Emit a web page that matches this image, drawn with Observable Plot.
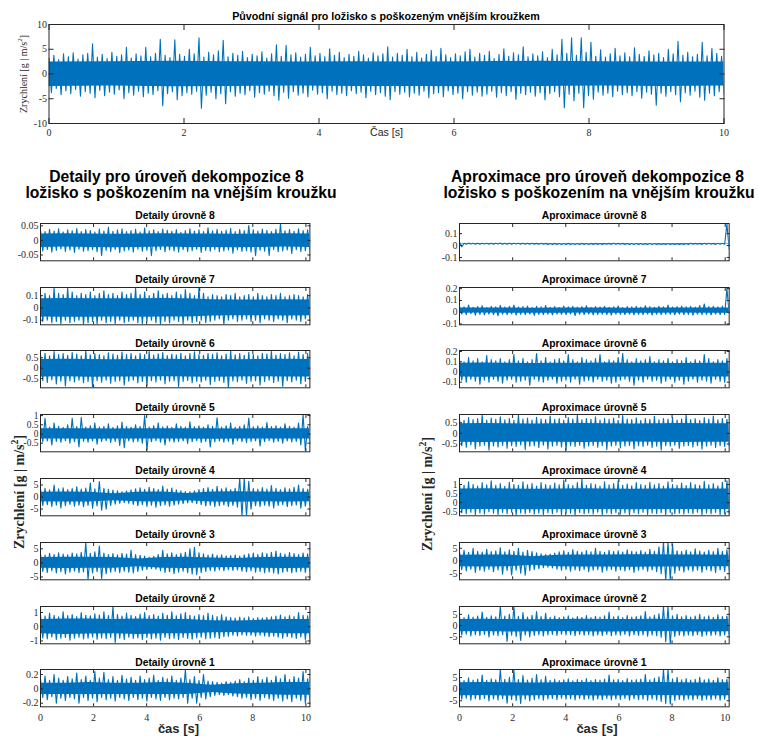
<!DOCTYPE html>
<html><head><meta charset="utf-8">
<script src="https://cdn.jsdelivr.net/npm/d3@7"></script>
<script src="https://cdn.jsdelivr.net/npm/@observablehq/plot@0.6"></script>
<style>
body{margin:0;background:#fff;}
#c{position:relative;width:758px;height:736px;overflow:hidden;background:#fff;}
#c svg{position:absolute;}
</style></head><body><div id="c"></div>
<script>
// ---------- texts ----------
const topTitle = "Původní signál pro ložisko s poškozeným vnějším kroužkem";
const topXLabel = "Čas [s]";
const yLabelMain = "Zrychlení [g | m/s";
const leftTitle = ["Detaily pro úroveň dekompozice 8", "ložisko s poškozením na vnějším kroužku"];
const rightTitle = ["Aproximace pro úroveň dekompozice 8", "ložisko s poškozením na vnějším kroužku"];
const detTitles = ["Detaily úrovně 8","Detaily úrovně 7","Detaily úrovně 6","Detaily úrovně 5","Detaily úrovně 4","Detaily úrovně 3","Detaily úrovně 2","Detaily úrovně 1"];
const aprTitles = ["Aproximace úrovně 8","Aproximace úrovně 7","Aproximace úrovně 6","Aproximace úrovně 5","Aproximace úrovně 4","Aproximace úrovně 3","Aproximace úrovně 2","Aproximace úrovně 1"];
const bottomXLabel = "čas [s]";

// ---------- ticks / domains ----------
const topXTicks = [0,2,4,6,8,10];
const topYTicks = [-10,-5,0,5,10];
const topXDomain = [0,10];
const topYDomain = [-10,10];
const subXTicks = [0,2,4,6,8,10];
const subXDomain = [0,10.15];
const detYTicks = [[-0.05,0,0.05],[-0.1,0,0.1],[-0.5,0,0.5],[-0.5,0,0.5,1],[-5,0,5],[-5,0,5],[-1,0,1],[-0.2,0,0.2]];
const detYDomains = [[-0.07,0.058],[-0.138,0.167],[-0.94,0.85],[-0.97,1.06],[-7.8,7.7],[-6,7.25],[-1.2,1.42],[-0.25,0.27]];
const aprYTicks = [[-0.1,0,0.1],[-0.1,0,0.1,0.2],[-0.1,0,0.1,0.2],[-0.5,0,0.5],[-0.5,0,0.5,1],[-5,0,5],[-5,0,5],[-5,0,5]];
const aprYDomains = [[-0.128,0.185],[-0.107,0.21],[-0.155,0.21],[-0.87,0.89],[-0.72,1.33],[-7.4,7.3],[-8.1,8.5],[-7.6,8.5]];

// ---------- signal peaks (upper / lower swing of each oscillation) ----------
const topHi = [3.2,3.8,2.9,4.1,3.5,4.3,3.0,3.9,4.2,6.1, 3.4,4.0,3.1,4.4,3.6,3.9,5.4,3.2,4.1,3.7, 5.4,3.5,4.2,7.0,3.8,3.3,6.9,4.0,3.6,5.0, 4.1,7.3,3.4,4.4,3.9,4.7,6.8,3.5,4.2,3.8, 4.6,3.3,4.0,3.7,4.5,3.2,4.1,5.9,3.6,5.8, 3.9,4.3,3.4,4.0,5.4,3.7,4.2,3.5,5.1,3.8, 4.4,3.3,4.0,3.6,4.6,3.9,3.2,4.3,3.7,4.1, 5.5,3.4,4.2,3.8,5.0,3.5,4.4,3.2,4.0,4.8, 3.6,5.2,3.9,3.3,4.1,3.7,4.5,5.0,3.4,4.2, 3.8,4.6,3.1,4.0,5.1,3.6,4.3,3.9,5.5,3.5, 4.1,3.7,4.5,3.3,5.0,3.9,7.0,4.2,7.3,3.8, 7.3,4.4,6.4,3.6,4.9,3.4,4.1,5.2,3.7,4.3, 3.5,5.3,4.0,3.6,4.7,3.9,4.2,3.3,5.0,4.1, 6.6,3.8,4.4,3.5,4.0,6.4,3.7,5.2,4.2,3.6];
const topLo = [-3.8,-2.9,-4.2,-3.4,-4.0,-3.1,-4.5,-3.6,-3.9,-4.8, -3.3,-4.4,-3.7,-4.1,-3.2,-5.0,-3.8,-4.3,-3.5,-4.6, -3.9,-4.2,-3.4,-6.4,-4.0,-3.6,-5.2,-4.4,-3.8,-4.1, -3.5,-6.9,-4.3,-3.7,-5.0,-4.0,-6.0,-3.6,-4.5,-3.9, -4.2,-3.4,-4.7,-3.8,-4.1,-3.5,-4.4,-5.3,-3.7,-4.9, -3.6,-4.3,-3.9,-4.6,-3.3,-4.1,-3.8,-5.0,-3.5,-4.2, -3.9,-4.4,-3.4,-4.0,-3.7,-4.8,-3.5,-4.2,-3.8,-4.5, -5.2,-3.6,-4.1,-3.7,-4.6,-3.9,-4.3,-3.5,-4.8,-4.0, -3.8,-4.6,-3.4,-4.2,-3.9,-5.0,-3.6,-4.3,-3.7,-4.5, -4.1,-3.5,-4.7,-3.8,-4.4,-3.6,-5.1,-3.9,-4.2,-3.7, -4.5,-3.8,-5.2,-4.0,-3.6,-4.6,-6.8,-4.1,-5.4,-3.9, -6.8,-4.4,-5.1,-3.7,-4.3,-3.9,-4.6,-3.5,-4.2,-3.8, -4.4,-3.6,-4.9,-3.7,-4.1,-6.3,-3.9,-4.5,-3.6,-4.2, -5.6,-3.8,-4.3,-3.5,-4.7,-5.3,-3.9,-4.4,-3.6,-4.1];
const topCoreHi = [2.4,2.5,2.6,2.5,2.4,2.5,2.4,2.5,2.6,2.5,2.4,2.4];
const topCoreLo = [-2.5,-2.4,-2.6,-2.5,-2.4,-2.5,-2.5,-2.6,-2.5,-2.4,-2.5,-2.4];

const d8Hi = [0.035,0.03,0.038,0.032,0.04,0.029,0.036,0.033,0.041,0.03, 0.037,0.034,0.029,0.039,0.032,0.045,0.031,0.036,0.04,0.03, 0.034,0.038,0.029,0.042,0.033,0.036,0.03,0.039,0.035,0.031, 0.037,0.028,0.034,0.04,0.032,0.036,0.03,0.043,0.033,0.038, 0.031,0.035,0.041,0.03,0.037,0.034,0.051,0.036,0.032,0.039, 0.035,0.03,0.038,0.056,0.033,0.037,0.031,0.04,0.034,0.036];
const d8Lo = [-0.036,-0.031,-0.04,-0.034,-0.029,-0.038,-0.033,-0.041,-0.03,-0.037, -0.035,-0.032,-0.039,-0.052,-0.034,-0.038,-0.031,-0.042,-0.036,-0.033, -0.04,-0.03,-0.037,-0.034,-0.052,-0.035,-0.031,-0.039,-0.033,-0.036, -0.04,-0.032,-0.038,-0.035,-0.03,-0.041,-0.034,-0.037,-0.031,-0.039, -0.036,-0.033,-0.044,-0.032,-0.038,-0.035,-0.04,-0.052,-0.034,-0.037, -0.052,-0.031,-0.039,-0.036,-0.033,-0.045,-0.032,-0.038,-0.035,-0.037];
const d8CoreHi = [0.022,0.023,0.022,0.021,0.022,0.023,0.022,0.022,0.021,0.022,0.023,0.022];
const d8CoreLo = [-0.024,-0.023,-0.024,-0.025,-0.024,-0.023,-0.024,-0.024,-0.025,-0.024,-0.023,-0.024];

const d7Hi = [0.11,0.12,0.1,0.16,0.12,0.11,0.16,0.13,0.1,0.12, 0.11,0.13,0.1,0.12,0.14,0.11,0.12,0.1,0.13,0.11, 0.12,0.16,0.11,0.13,0.1,0.12,0.14,0.11,0.12,0.1, 0.13,0.11,0.15,0.12,0.1,0.16,0.12,0.09,0.11,0.1, 0.09,0.11,0.1,0.12,0.09,0.1,0.11,0.09,0.12,0.1, 0.09,0.11,0.1,0.12,0.09,0.1,0.11,0.1,0.09,0.11];
const d7Lo = [-0.11,-0.1,-0.12,-0.11,-0.13,-0.1,-0.12,-0.11,-0.1,-0.135, -0.12,-0.11,-0.13,-0.1,-0.12,-0.11,-0.13,-0.1,-0.12,-0.11, -0.1,-0.12,-0.13,-0.11,-0.1,-0.12,-0.135,-0.11,-0.12,-0.1, -0.11,-0.13,-0.1,-0.12,-0.11,-0.1,-0.12,-0.11,-0.1,-0.09, -0.135,-0.1,-0.09,-0.11,-0.1,-0.09,-0.11,-0.1,-0.12,-0.09, -0.1,-0.11,-0.09,-0.1,-0.12,-0.09,-0.1,-0.11,-0.09,-0.1];
const d7CoreHi = [0.075,0.078,0.075,0.076,0.074,0.077,0.075,0.066,0.065,0.064,0.066,0.065];
const d7CoreLo = [-0.075,-0.077,-0.076,-0.075,-0.077,-0.075,-0.074,-0.066,-0.064,-0.065,-0.066,-0.064];

const d6Hi = [0.65,0.72,0.6,0.8,0.66,0.7,0.62,0.75,0.68,0.6, 0.82,0.64,0.7,0.66,0.6,0.74,0.68,0.62,0.78,0.65, 0.7,0.6,0.72,0.66,0.8,0.63,0.69,0.75,0.61,0.68, 0.64,0.72,0.6,0.7,0.79,0.65,0.62,0.7,0.67,0.74, 0.6,0.68,0.82,0.64,0.7,0.62,0.76,0.66,0.6,0.72, 0.68,0.8,0.63,0.7,0.65,0.74,0.6,0.78,0.66,0.7];
const d6Lo = [-0.6,-0.68,-0.56,-0.75,-0.62,-0.85,-0.6,-0.66,-0.58,-0.7, -0.63,-0.9,-0.6,-0.67,-0.57,-0.72,-0.64,-0.6,-0.8,-0.62, -0.58,-0.69,-0.63,-0.85,-0.6,-0.66,-0.57,-0.74,-0.62,-0.6, -0.88,-0.64,-0.59,-0.7,-0.62,-0.66,-0.58,-0.78,-0.63,-0.6, -0.68,-0.92,-0.61,-0.65,-0.58,-0.72,-0.62,-0.6,-0.8,-0.64, -0.58,-0.68,-0.62,-0.86,-0.6,-0.66,-0.58,-0.74,-0.63,-0.6];
const d6CoreHi = [0.42,0.43,0.42,0.41,0.42,0.43,0.42,0.42,0.41,0.42,0.43,0.42];
const d6CoreLo = [-0.42,-0.41,-0.43,-0.42,-0.42,-0.41,-0.42,-0.43,-0.42,-0.41,-0.42,-0.42];

const d5Hi = [0.4,0.85,0.38,0.6,0.42,0.36,0.5,0.85,0.4,0.9, 0.37,0.45,0.6,0.38,0.42,0.55,0.36,0.44,0.65,0.4, 0.38,0.5,0.42,1.0,0.37,0.45,0.6,0.39,0.43,0.36, 0.55,0.41,0.38,0.66,0.4,0.44,0.37,0.5,0.42,0.88, 0.38,0.45,0.6,0.36,0.42,0.5,0.86,0.39,0.44,0.37, 0.62,0.4,0.45,0.38,0.55,0.42,0.37,0.6,1.03,0.4];
const d5Lo = [-0.42,-0.38,-0.6,-0.4,-0.45,-0.37,-0.5,-0.42,-0.7,-0.39, -0.44,-0.38,-0.55,-0.41,-0.37,-0.46,-0.4,-0.62,-0.75,-0.38, -0.43,-0.4,-0.5,-0.88,-0.42,-0.37,-0.45,-0.6,-0.39,-0.44, -0.4,-0.38,-0.52,-0.42,-0.37,-0.46,-0.4,-0.7,-0.43,-0.38, -0.45,-0.4,-0.55,-0.37,-0.42,-0.48,-0.4,-0.38,-0.65,-0.42, -0.37,-0.45,-0.4,-0.5,-0.38,-0.43,-0.4,-0.6,-0.9,-0.41];
const d5CoreHi = [0.28,0.29,0.28,0.27,0.28,0.29,0.28,0.28,0.27,0.28,0.29,0.28];
const d5CoreLo = [-0.28,-0.27,-0.29,-0.28,-0.28,-0.27,-0.28,-0.29,-0.28,-0.27,-0.28,-0.28];

const d4Hi = [3.2,3.6,3.0,5.0,3.4,3.8,3.1,3.5,4.2,3.3, 3.7,5.8,3.4,6.4,3.6,3.2,2.9,2.6,2.2,2.5, 3.0,3.4,3.8,3.2,4.0,3.5,3.1,4.6,3.3,3.7, 3.0,2.6,2.3,2.2,2.6,3.1,3.5,3.9,3.2,4.4, 3.4,3.8,3.1,3.6,7.7,7.7,6.5,3.5,3.2,3.9, 3.3,4.8,3.6,3.1,3.8,3.4,4.0,5.0,3.5,3.2];
const d4Lo = [-3.5,-3.2,-3.9,-3.4,-4.5,-3.6,-3.1,-3.8,-3.4,-4.0, -3.5,-4.6,-3.7,-5.5,-5.0,-3.5,-3.0,-2.6,-2.3,-2.6, -3.1,-3.6,-3.2,-3.9,-3.4,-4.2,-3.6,-3.3,-3.8,-3.4, -3.0,-2.7,-2.4,-2.3,-2.8,-3.2,-3.7,-3.4,-4.0,-3.6, -3.3,-3.9,-3.5,-4.2,-7.8,-7.8,-5.0,-3.6,-3.9,-3.4, -3.8,-4.5,-3.5,-3.2,-4.0,-3.6,-3.3,-4.6,-3.8,-3.5];
const d4CoreHi = [2.0,2.1,2.0,1.4,2.0,2.1,1.5,2.1,2.2,2.1,2.0,2.0];
const d4CoreLo = [-2.0,-2.1,-2.1,-1.5,-2.0,-2.1,-1.5,-2.1,-2.2,-2.0,-2.1,-2.0];

const d3Hi = [3.2,2.8,3.4,3.0,3.6,3.1,2.9,3.5,3.2,3.8, 7.2,3.4,3.9,6.0,3.5,3.0,3.3,2.9,3.4,3.1, 4.5,3.0,2.7,2.4,2.1,2.3,3.0,4.5,3.2,3.6, 3.0,3.4,3.8,5.0,5.5,3.6,3.2,2.8,3.1,2.7, 2.9,2.5,2.6,2.8,2.4,2.9,3.2,3.5,3.0,3.6, 3.3,3.8,4.2,3.4,3.1,3.7,3.3,3.0,3.5,3.2];
const d3Lo = [-3.0,-3.4,-2.8,-3.6,-3.1,-3.9,-3.3,-2.9,-3.5,-3.2, -6.0,-3.6,-3.1,-5.5,-3.8,-3.3,-3.0,-3.5,-2.9,-3.3, -3.6,-3.0,-2.6,-2.3,-2.0,-2.2,-2.8,-3.4,-3.1,-3.8, -3.3,-2.9,-3.5,-3.9,-4.2,-3.4,-3.0,-2.7,-2.9,-2.5, -2.8,-2.4,-2.7,-2.5,-2.9,-3.1,-2.8,-3.3,-3.0,-3.5, -3.2,-3.6,-3.9,-3.3,-3.0,-3.5,-3.2,-2.9,-3.4,-3.1];
const d3CoreHi = [1.9,2.0,2.0,1.9,1.4,1.9,2.0,1.7,1.6,1.9,2.0,1.9];
const d3CoreLo = [-1.9,-2.0,-1.9,-1.9,-1.4,-1.9,-2.0,-1.7,-1.6,-1.9,-2.0,-1.9];

const d2Hi = [0.8,0.75,0.95,0.8,0.7,1.05,0.78,0.85,0.72,1.0, 0.8,0.76,0.9,0.82,1.05,0.78,1.4,0.85,0.75,0.95, 0.8,0.72,0.88,1.0,0.78,0.85,0.74,0.95,0.8,1.05, 0.76,0.9,1.0,0.8,0.74,0.86,0.78,0.95,0.8,0.72, 0.85,0.7,0.65,0.6,0.68,0.62,0.7,0.58,0.64,0.6, 0.66,0.7,0.75,0.82,0.7,0.78,0.72,1.0,0.8,0.76];
const d2Lo = [-0.78,-0.85,-0.72,-0.9,-0.8,-0.75,-0.95,-0.8,-0.74,-0.86, -0.8,-0.72,-0.88,-0.78,-0.84,-0.76,-1.1,-0.8,-0.9,-0.74, -0.82,-0.78,-0.9,-0.75,-0.85,-0.8,-0.95,-0.76,-0.84,-0.8, -0.9,-0.76,-0.82,-0.88,-0.78,-0.74,-0.85,-0.8,-0.76,-0.82, -0.7,-0.66,-0.6,-0.64,-0.58,-0.62,-0.6,-0.66,-0.6,-0.64, -0.7,-0.66,-0.74,-0.8,-0.7,-0.76,-0.82,-0.72,-0.9,-0.78];
const d2CoreHi = [0.5,0.55,0.55,0.5,0.55,0.5,0.5,0.42,0.4,0.45,0.5,0.5];
const d2CoreLo = [-0.5,-0.55,-0.52,-0.5,-0.55,-0.5,-0.5,-0.42,-0.4,-0.45,-0.5,-0.5];

const d1Hi = [0.13,0.18,0.12,0.2,0.15,0.12,0.17,0.14,0.22,0.13, 0.18,0.12,0.24,0.15,0.23,0.13,0.17,0.12,0.19,0.14, 0.16,0.12,0.18,0.13,0.15,0.19,0.12,0.16,0.14,0.18, 0.12,0.15,0.27,0.13,0.17,0.12,0.2,0.11,0.1,0.09, 0.08,0.1,0.09,0.11,0.13,0.1,0.15,0.12,0.17,0.13, 0.16,0.12,0.18,0.14,0.2,0.13,0.17,0.15,0.24,0.14];
const d1Lo = [-0.12,-0.15,-0.11,-0.2,-0.13,-0.16,-0.12,-0.14,-0.2,-0.12, -0.16,-0.13,-0.18,-0.12,-0.15,-0.13,-0.17,-0.12,-0.14,-0.16, -0.12,-0.15,-0.13,-0.17,-0.12,-0.14,-0.16,-0.12,-0.15,-0.13, -0.14,-0.12,-0.2,-0.13,-0.2,-0.12,-0.14,-0.11,-0.09,-0.08, -0.09,-0.08,-0.1,-0.11,-0.13,-0.12,-0.15,-0.13,-0.16,-0.12, -0.14,-0.16,-0.13,-0.17,-0.14,-0.18,-0.13,-0.16,-0.2,-0.15];
const d1CoreHi = [0.08,0.08,0.09,0.08,0.08,0.09,0.08,0.05,0.07,0.08,0.09,0.09];
const d1CoreLo = [-0.08,-0.08,-0.08,-0.08,-0.08,-0.08,-0.08,-0.05,-0.07,-0.08,-0.09,-0.09];

const a8Hi = [0.029,0.019,0.02,0.019,0.02,0.019,0.019,0.02,0.019,0.02, 0.019,0.02,0.019,0.019,0.02,0.019,0.019,0.018,0.019,0.018, 0.017,0.018,0.017,0.017,0.018,0.017,0.017,0.018,0.017,0.018, 0.018,0.017,0.018,0.018,0.019,0.018,0.018,0.017,0.017,0.017, 0.017,0.016,0.017,0.017,0.016,0.016,0.017,0.016,0.016,0.016, 0.017,0.019,0.018,0.018,0.019,0.019,0.018,0.019,0.019,0.18];
const a8Lo = [-0.011,0.012,0.013,0.012,0.012,0.013,0.012,0.012,0.013,0.012, 0.012,0.012,0.013,0.012,0.012,0.012,0.012,0.011,0.011,0.01, 0.01,0.01,0.009,0.01,0.01,0.009,0.01,0.01,0.009,0.01, 0.01,0.01,0.011,0.01,0.011,0.011,0.01,0.01,0.009,0.01, 0.009,0.009,0.009,0.01,0.009,0.009,0.009,0.009,0.008,0.009, 0.009,0.011,0.011,0.01,0.011,0.011,0.01,0.011,0.011,-0.03];
const a8CoreHi = [0.018,0.018,0.018,0.017,0.016,0.016,0.017,0.016,0.016,0.015,0.017,0.018];
const a8CoreLo = [0.013,0.013,0.012,0.011,0.01,0.01,0.011,0.01,0.01,0.009,0.011,0.012];

const a7Hi = [0.05,0.045,0.06,0.042,0.048,0.055,0.04,0.05,0.046,0.058, 0.043,0.05,0.06,0.044,0.048,0.052,0.041,0.05,0.045,0.056, 0.042,0.048,0.04,0.052,0.045,0.05,0.043,0.047,0.055,0.041, 0.048,0.044,0.05,0.042,0.046,0.053,0.04,0.048,0.045,0.05, 0.043,0.055,0.047,0.042,0.05,0.045,0.06,0.044,0.048,0.052, 0.045,0.05,0.043,0.056,0.07,0.048,0.05,0.045,0.052,0.2];
const a7Lo = [-0.015,-0.02,-0.012,-0.025,-0.018,-0.022,-0.015,-0.02,-0.03,-0.016, -0.02,-0.014,-0.024,-0.018,-0.02,-0.015,-0.026,-0.018,-0.02,-0.016, -0.022,-0.015,-0.018,-0.02,-0.014,-0.028,-0.017,-0.02,-0.015,-0.022, -0.018,-0.016,-0.02,-0.024,-0.015,-0.018,-0.02,-0.016,-0.022,-0.018, -0.02,-0.015,-0.024,-0.017,-0.02,-0.016,-0.018,-0.022,-0.015,-0.02, -0.018,-0.025,-0.016,-0.02,-0.018,-0.022,-0.016,-0.02,-0.018,-0.01];
const a7CoreHi = [0.035,0.036,0.035,0.034,0.035,0.036,0.035,0.034,0.035,0.036,0.035,0.035];
const a7CoreLo = [-0.008,-0.007,-0.008,-0.009,-0.008,-0.007,-0.008,-0.009,-0.008,-0.007,-0.008,-0.008];

const a6Hi = [0.12,0.1,0.14,0.11,0.13,0.1,0.16,0.12,0.11,0.13, 0.1,0.12,0.17,0.11,0.13,0.1,0.12,0.18,0.11,0.14, 0.1,0.12,0.13,0.11,0.17,0.12,0.1,0.14,0.12,0.11, 0.13,0.17,0.1,0.12,0.11,0.14,0.18,0.12,0.1,0.13, 0.11,0.12,0.15,0.1,0.12,0.11,0.13,0.1,0.12,0.11, 0.14,0.1,0.12,0.11,0.17,0.13,0.1,0.12,0.11,0.13];
const a6Lo = [-0.08,-0.1,-0.07,-0.09,-0.12,-0.08,-0.1,-0.07,-0.09,-0.11, -0.08,-0.07,-0.1,-0.09,-0.08,-0.13,-0.07,-0.09,-0.1,-0.08, -0.07,-0.11,-0.09,-0.08,-0.1,-0.07,-0.12,-0.09,-0.08,-0.1, -0.07,-0.09,-0.08,-0.11,-0.1,-0.08,-0.07,-0.09,-0.13,-0.08, -0.1,-0.07,-0.09,-0.08,-0.11,-0.09,-0.07,-0.1,-0.08,-0.12, -0.09,-0.07,-0.1,-0.08,-0.09,-0.11,-0.07,-0.09,-0.1,-0.08];
const a6CoreHi = [0.085,0.088,0.085,0.083,0.086,0.085,0.087,0.084,0.085,0.083,0.086,0.085];
const a6CoreLo = [-0.05,-0.052,-0.05,-0.049,-0.051,-0.05,-0.052,-0.05,-0.049,-0.051,-0.05,-0.05];

const a5Hi = [0.68,0.62,0.75,0.65,0.7,0.85,0.63,0.72,0.66,0.78, 0.64,0.7,0.62,0.86,0.67,0.72,0.63,0.76,0.68,0.65, 0.82,0.66,0.7,0.62,0.74,0.67,0.85,0.64,0.7,0.66, 0.78,0.63,0.7,0.66,0.72,0.62,0.84,0.68,0.65,0.73, 0.62,0.7,0.66,0.8,0.64,0.7,0.67,0.75,0.63,0.68, 0.86,0.65,0.7,0.62,0.74,0.67,0.82,0.64,0.7,0.66];
const a5Lo = [-0.58,-0.65,-0.55,-0.72,-0.6,-0.56,-0.78,-0.6,-0.64,-0.57, -0.7,-0.58,-0.62,-0.55,-0.76,-0.6,-0.58,-0.66,-0.56,-0.74, -0.6,-0.57,-0.64,-0.78,-0.58,-0.62,-0.56,-0.7,-0.6,-0.57, -0.65,-0.58,-0.76,-0.6,-0.56,-0.68,-0.6,-0.57,-0.72,-0.58, -0.62,-0.56,-0.66,-0.6,-0.78,-0.58,-0.6,-0.56,-0.7,-0.6, -0.57,-0.64,-0.58,-0.74,-0.6,-0.56,-0.66,-0.58,-0.62,-0.6];
const a5CoreHi = [0.45,0.46,0.45,0.44,0.45,0.46,0.45,0.44,0.45,0.46,0.45,0.45];
const a5CoreLo = [-0.42,-0.43,-0.42,-0.41,-0.42,-0.43,-0.42,-0.41,-0.42,-0.43,-0.42,-0.42];

const a4Hi = [1.05,0.95,1.15,1.0,0.92,1.1,0.98,1.2,0.95,1.05, 0.9,1.12,1.0,0.95,1.15,0.98,1.05,0.92,1.1,1.0, 0.95,1.08,0.98,1.25,1.0,0.94,1.1,1.3,0.96,1.05, 1.0,0.92,1.15,0.98,1.05,1.2,0.95,1.02,0.93,1.1, 1.0,0.95,1.12,0.98,1.05,0.92,1.15,1.0,0.96,1.08, 0.94,1.1,1.0,0.95,1.18,0.98,1.05,0.93,1.12,1.2];
const a4Lo = [-0.55,-0.6,-0.52,-0.66,-0.56,-0.62,-0.5,-0.58,-0.64,-0.54, -0.6,-0.52,-0.68,-0.56,-0.6,-0.53,-0.62,-0.57,-0.66,-0.55, -0.6,-0.52,-0.64,-0.56,-0.58,-0.7,-0.54,-0.6,-0.56,-0.62, -0.52,-0.66,-0.57,-0.6,-0.54,-0.62,-0.56,-0.68,-0.55,-0.6, -0.52,-0.64,-0.57,-0.6,-0.55,-0.66,-0.53,-0.6,-0.58,-0.62, -0.55,-0.6,-0.52,-0.66,-0.57,-0.6,-0.54,-0.64,-0.58,-0.6];
const a4CoreHi = [0.75,0.76,0.75,0.74,0.75,0.76,0.75,0.74,0.75,0.76,0.75,0.75];
const a4CoreLo = [-0.38,-0.37,-0.38,-0.39,-0.38,-0.37,-0.38,-0.39,-0.38,-0.37,-0.38,-0.38];

const a3Hi = [3.6,4.2,3.4,5.0,3.8,3.5,4.6,3.7,4.0,5.2, 3.6,4.4,3.8,5.0,3.5,4.2,3.7,3.2,2.8,2.5, 2.7,3.1,3.6,4.0,3.4,4.5,3.8,3.5,4.1,3.6, 5.0,3.8,3.4,4.2,3.7,4.0,3.5,4.4,3.8,3.6, 4.1,3.5,4.6,3.8,5.5,7.3,7.3,6.5,4.0,3.7, 4.3,3.6,4.8,3.9,3.5,4.2,3.7,5.0,3.8,4.4];
const a3Lo = [-3.4,-3.9,-3.2,-4.5,-3.6,-4.0,-3.3,-4.2,-3.5,-5.2, -3.7,-5.5,-3.6,-4.8,-5.6,-3.8,-3.4,-3.0,-2.6,-2.4, -2.7,-3.2,-3.6,-3.3,-4.0,-3.5,-3.8,-3.3,-4.2,-3.6, -3.4,-4.4,-3.7,-3.3,-4.0,-3.5,-3.9,-3.4,-4.5,-3.6, -3.3,-4.0,-3.5,-4.2,-5.0,-7.4,-7.4,-4.8,-3.7,-4.3, -3.5,-4.0,-3.6,-4.4,-3.4,-3.9,-4.5,-3.5,-4.1,-3.6];
const a3CoreHi = [2.3,2.4,2.4,1.7,2.3,2.4,2.4,2.5,2.5,2.4,2.4,2.3];
const a3CoreLo = [-2.3,-2.4,-2.3,-1.7,-2.3,-2.4,-2.4,-2.5,-2.4,-2.4,-2.3,-2.3];

const a2Hi = [4.0,3.6,4.8,3.8,4.2,6.0,3.7,4.4,3.9,8.5, 4.2,5.0,8.5,4.1,5.8,3.8,4.6,6.2,4.0,5.5, 3.7,4.2,3.6,3.9,4.4,3.5,4.0,3.7,4.5,3.6, 4.1,3.8,4.3,6.0,3.9,4.2,3.6,4.5,3.8,4.0, 4.3,6.2,3.9,4.6,5.2,8.5,8.5,4.4,5.0,3.9, 4.5,3.8,4.2,5.0,3.9,4.4,3.7,4.8,4.0,4.2];
const a2Lo = [-4.2,-3.8,-4.6,-4.0,-4.4,-3.9,-5.0,-4.1,-4.5,-4.0, -7.0,-4.3,-4.8,-6.6,-4.2,-5.0,-4.4,-4.0,-4.6,-4.1, -3.9,-4.4,-3.8,-4.2,-4.0,-4.5,-3.9,-4.3,-4.0,-4.6, -4.1,-4.4,-3.9,-4.5,-4.1,-4.3,-3.9,-4.6,-4.0,-4.4, -4.2,-4.7,-4.1,-4.5,-5.2,-7.2,-8.0,-4.8,-4.3,-4.6, -4.1,-4.5,-4.0,-4.8,-4.2,-4.4,-4.0,-4.6,-4.2,-4.4];
const a2CoreHi = [2.7,2.8,2.7,2.6,2.7,2.8,2.7,2.7,2.8,2.7,2.6,2.7];
const a2CoreLo = [-2.7,-2.6,-2.8,-2.7,-2.6,-2.7,-2.8,-2.7,-2.6,-2.7,-2.8,-2.7];

const a1Hi = [4.2,3.7,4.9,3.9,4.4,6.1,3.8,4.5,4.0,8.5, 4.3,5.1,8.5,4.2,5.9,3.9,4.7,6.3,4.1,5.6, 3.8,4.3,3.7,4.0,4.5,3.6,4.1,3.8,4.6,3.7, 4.2,3.9,4.4,6.1,4.0,4.3,3.7,4.6,3.9,4.1, 4.4,6.3,4.0,4.7,5.3,8.5,8.5,4.5,5.1,4.0, 4.6,3.9,4.3,5.1,4.0,4.5,3.8,4.9,4.1,4.3];
const a1Lo = [-4.3,-3.9,-4.7,-4.1,-4.5,-4.0,-5.1,-4.2,-4.6,-4.1, -6.0,-4.4,-4.9,-6.2,-4.3,-5.1,-4.5,-4.1,-4.7,-4.2, -4.0,-4.5,-3.9,-4.3,-4.1,-4.6,-4.0,-4.4,-4.1,-4.7, -4.2,-4.5,-4.0,-4.6,-4.2,-4.4,-4.0,-4.7,-4.1,-4.5, -4.3,-4.8,-4.2,-4.6,-5.3,-6.2,-6.4,-4.9,-4.4,-4.7, -4.2,-4.6,-4.1,-4.9,-4.3,-4.5,-4.1,-4.7,-4.3,-4.5];
const a1CoreHi = [2.8,2.9,2.8,2.7,2.8,2.9,2.8,2.8,2.9,2.8,2.7,2.8];
const a1CoreLo = [-2.8,-2.7,-2.9,-2.8,-2.7,-2.8,-2.9,-2.8,-2.7,-2.8,-2.9,-2.8];

// ---------- drawing ----------
const BLUE = "#0072BD";
const AX = "#262626";
const SERIF = "'Liberation Serif','Times New Roman',Times,serif";
const SANS = "'Liberation Sans',Arial,Helvetica,sans-serif";
const root = document.getElementById("c");

function zigzag(hi, lo, T) {
  const n = hi.length, m = 2 * n - 1, out = [];
  for (let k = 0; k < n; k++) {
    out.push({t: (2 * k) * T / m, v: hi[k]});
    out.push({t: (2 * k + 1) * T / m, v: lo[k]});
  }
  return out;
}
function band(cHi, cLo, T) {
  return cHi.map((v, j) => ({t: j * T / (cHi.length - 1), y1: cLo[j], y2: v}));
}

function panel(o) {
  const T = o.xDomain[1];
  const txt = {fontFamily: SERIF, fontSize: o.fs, fill: "#2b2b2b"};
  const svg = Plot.plot({
    width: o.width, height: o.height,
    marginLeft: o.mL, marginRight: o.mR, marginTop: o.mT, marginBottom: o.mB,
    style: {background: "transparent", fontFamily: SERIF, fontSize: o.fs + "px", color: AX, overflow: "visible"},
    x: {domain: o.xDomain, label: null},
    y: {domain: o.yDomain, label: null},
    marks: [
      Plot.areaY(band(o.cHi, o.cLo, T), {x: "t", y1: "y1", y2: "y2", fill: BLUE, clip: true}),
      Plot.lineY(zigzag(o.hi, o.lo, T), {x: "t", y: "v", stroke: BLUE, strokeWidth: o.sw, clip: true}),
      Plot.axisX(o.xTicks, {anchor: "bottom", tickSize: -o.ts, tickPadding: o.xPad, tickFormat: o.xLabels ? (d => String(d)) : (() => ""), label: null, stroke: AX, ...txt}),
      Plot.axisX(o.xTicks, {anchor: "top", tickSize: -o.ts, tickPadding: 0, tickFormat: () => "", label: null, stroke: AX}),
      Plot.axisY(o.yTicks, {anchor: "left", tickSize: -o.ts, tickPadding: o.yPad, tickFormat: d => String(d), label: null, stroke: AX, ...txt}),
      Plot.axisY(o.yTicks, {anchor: "right", tickSize: -o.ts, tickPadding: 0, tickFormat: () => "", label: null, stroke: AX}),
      Plot.frame({stroke: AX, strokeWidth: 1})
    ]
  });
  svg.style.left = o.left + "px";
  svg.style.top = o.top + "px";
  root.appendChild(svg);
}

// top signal
panel({hi: topHi, lo: topLo, cHi: topCoreHi, cLo: topCoreLo, xDomain: topXDomain, yDomain: topYDomain,
  xTicks: topXTicks, yTicks: topYTicks, xLabels: true, left: 0, top: 0, width: 758, height: 140,
  mL: 48.5, mR: 34.5, mT: 24, mB: 17, ts: 5, xPad: 10, yPad: 7, fs: 10, sw: 1.1});

const detSets = [[d8Hi,d8Lo,d8CoreHi,d8CoreLo],[d7Hi,d7Lo,d7CoreHi,d7CoreLo],[d6Hi,d6Lo,d6CoreHi,d6CoreLo],[d5Hi,d5Lo,d5CoreHi,d5CoreLo],[d4Hi,d4Lo,d4CoreHi,d4CoreLo],[d3Hi,d3Lo,d3CoreHi,d3CoreLo],[d2Hi,d2Lo,d2CoreHi,d2CoreLo],[d1Hi,d1Lo,d1CoreHi,d1CoreLo]];
const aprSets = [[a8Hi,a8Lo,a8CoreHi,a8CoreLo],[a7Hi,a7Lo,a7CoreHi,a7CoreLo],[a6Hi,a6Lo,a6CoreHi,a6CoreLo],[a5Hi,a5Lo,a5CoreHi,a5CoreLo],[a4Hi,a4Lo,a4CoreHi,a4CoreLo],[a3Hi,a3Lo,a3CoreHi,a3CoreLo],[a2Hi,a2Lo,a2CoreHi,a2CoreLo],[a1Hi,a1Lo,a1CoreHi,a1CoreLo]];

const ROW0 = 222.7, ROWSTEP = 63.8, ROWH = 37.3;
const cols = [
  {sets: detSets, ticks: detYTicks, doms: detYDomains, frameLeft: 40.3, frameW: 269.4},
  {sets: aprSets, ticks: aprYTicks, doms: aprYDomains, frameLeft: 459.3, frameW: 269.7}
];
cols.forEach(c => {
  c.sets.forEach((s, i) => {
    const last = i === 7;
    const mT = 4, mB = last ? 20 : 4, mL = 40, mR = 8;
    panel({hi: s[0], lo: s[1], cHi: s[2], cLo: s[3], xDomain: subXDomain, yDomain: c.doms[i],
      xTicks: subXTicks, yTicks: c.ticks[i], xLabels: last,
      left: c.frameLeft - mL, top: ROW0 + i * ROWSTEP - mT, width: mL + c.frameW + mR, height: mT + ROWH + mB,
      mL, mR, mT, mB, ts: 3, xPad: 10, yPad: 5, fs: c.ticks[i].length > 3 ? 9.5 : 10, sw: 1.15});
  });
});

// ---------- text overlay ----------
const ov = d3.select(root).append("svg").attr("width", 758).attr("height", 736)
  .style("left", "0px").style("top", "0px").style("pointer-events", "none");
function label(x, y, s, font, size, weight, anchor = "middle", fill = "#000") {
  return ov.append("text").attr("x", x).attr("y", y).attr("text-anchor", anchor)
    .attr("font-family", font).attr("font-size", size).attr("font-weight", weight)
    .attr("fill", fill).text(s);
}
function yLabel(x, y, size, weight, fill) {
  const t = ov.append("text").attr("transform", `translate(${x},${y}) rotate(-90)`)
    .attr("text-anchor", "middle").attr("font-family", SERIF).attr("font-size", size)
    .attr("font-weight", weight).attr("fill", fill);
  t.append("tspan").text(yLabelMain);
  t.append("tspan").attr("dy", -size * 0.45).attr("font-size", size * 0.7).text("2");
  t.append("tspan").attr("dy", size * 0.45).text("]");
}

label(386, 19.5, topTitle, SANS, 10.7, "bold");
label(386.5, 135.5, topXLabel, SANS, 10.6, "normal", "middle", AX);
yLabel(26.5, 74, 10, "normal", AX);

label(176.5, 182, leftTitle[0], SANS, 15.7, "bold");
label(181, 198, leftTitle[1], SANS, 15.7, "bold");
label(597.5, 182, rightTitle[0], SANS, 15.7, "bold");
label(599, 198, rightTitle[1], SANS, 15.7, "bold");

detTitles.forEach((s, i) => label(175, ROW0 + i * ROWSTEP - 3.5, s, SANS, 10.3, "bold"));
aprTitles.forEach((s, i) => label(594.2, ROW0 + i * ROWSTEP - 3.5, s, SANS, 10.3, "bold"));

label(178.5, 732.5, bottomXLabel, SANS, 13, "bold", "middle", AX);
label(597, 732.5, bottomXLabel, SANS, 13, "bold", "middle", AX);

yLabel(24, 492, 14, "bold", AX);
yLabel(432, 494, 14, "bold", AX);
</script></body></html>
